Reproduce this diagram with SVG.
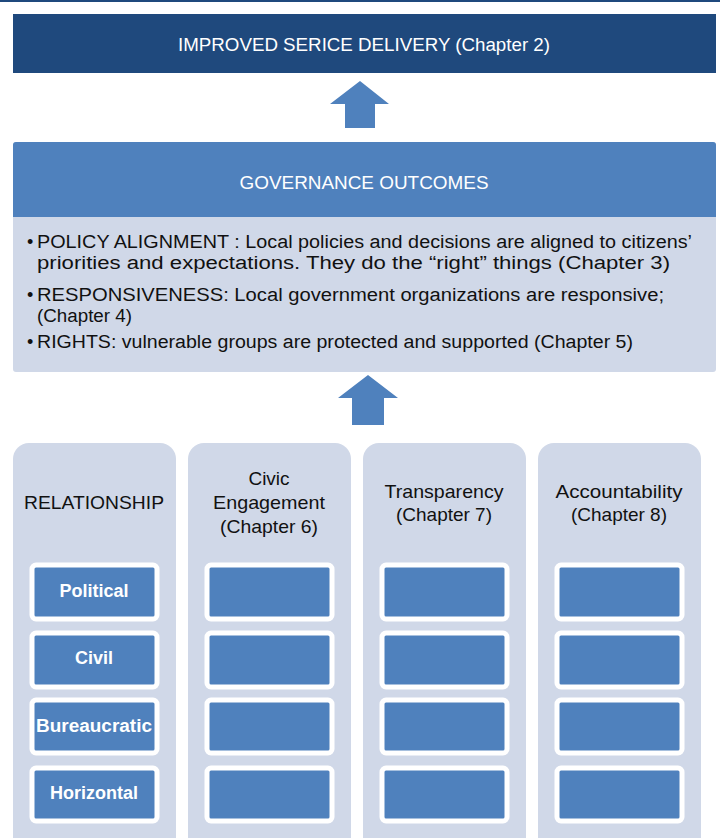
<svg xmlns="http://www.w3.org/2000/svg" width="720" height="838" viewBox="0 0 720 838">
  <style>
    .txt { font-family: "Liberation Sans", Arial, sans-serif; }
    .white { fill: #ffffff; }
    .dark { fill: #111111; }
    .col { fill: #d0d8e8; }
    .cell { fill: #4f81bd; stroke: #ffffff; stroke-width: 5; }
    .arrow { fill: #4f81bd; }
    .lbl { font-family: "Liberation Sans", Arial, sans-serif; font-size: 18px; font-weight: bold; fill: #ffffff; text-anchor: middle; }
    .hdr { font-family: "Liberation Sans", Arial, sans-serif; font-size: 19px; fill: #111111; text-anchor: middle; }
  </style>

  <!-- top rule -->
  <rect x="0" y="0" width="720" height="2" fill="#1f497d"/>

  <g id="service-delivery">
    <rect x="13" y="14" width="703" height="59" fill="#1f497d"/>
    <text class="txt white" x="364" y="51" font-size="18" text-anchor="middle" textLength="372" lengthAdjust="spacingAndGlyphs">IMPROVED SERICE DELIVERY (Chapter 2)</text>
  </g>

  <g id="connectors">
    <path class="arrow" d="M360,81 L389,104 L375,104 L375,128 L345,128 L345,104 L330,104 Z"/>
    <path class="arrow" d="M368,375 L398,398 L384,398 L384,425 L352,425 L352,398 L338,398 Z"/>
  </g>

  <g id="governance-outcomes">
    <rect x="13" y="142" width="703" height="230" rx="3" fill="#d0d8e8"/>
    <path d="M16,142 H713 A3,3 0 0 1 716,145 V217 H13 V145 A3,3 0 0 1 16,142 Z" fill="#4f81bd"/>
    <text class="txt white" x="364" y="189" font-size="18" text-anchor="middle" textLength="249" lengthAdjust="spacingAndGlyphs">GOVERNANCE OUTCOMES</text>
    <g class="txt dark" font-size="18">
      <text x="27" y="248">•</text>
      <text x="37" y="248" textLength="655" lengthAdjust="spacingAndGlyphs">POLICY ALIGNMENT : Local policies and decisions are aligned to citizens’</text>
      <text x="37" y="269" textLength="633" lengthAdjust="spacingAndGlyphs">priorities and expectations.  They do the “right” things (Chapter 3)</text>
      <text x="27" y="301">•</text>
      <text x="37" y="301" textLength="627" lengthAdjust="spacingAndGlyphs">RESPONSIVENESS: Local government organizations are responsive;</text>
      <text x="37" y="322" textLength="95" lengthAdjust="spacingAndGlyphs">(Chapter 4)</text>
      <text x="27" y="348">•</text>
      <text x="37" y="348" textLength="596" lengthAdjust="spacingAndGlyphs">RIGHTS: vulnerable groups are protected and supported (Chapter 5)</text>
    </g>
  </g>

  <g id="relationship">
    <rect class="col" x="13" y="443" width="163" height="420" rx="16"/>
    <text class="hdr" x="94" y="509" textLength="140" lengthAdjust="spacingAndGlyphs">RELATIONSHIP</text>
    <rect class="cell" x="32" y="565" width="125" height="54" rx="4"/>
    <rect class="cell" x="32" y="633" width="125" height="54" rx="4"/>
    <rect class="cell" x="32" y="700" width="125" height="53" rx="4"/>
    <rect class="cell" x="32" y="768" width="125" height="53" rx="4"/>
    <text class="lbl" x="94" y="597">Political</text>
    <text class="lbl" x="94" y="664">Civil</text>
    <text class="lbl" x="94" y="732" textLength="116" lengthAdjust="spacingAndGlyphs">Bureaucratic</text>
    <text class="lbl" x="94" y="799">Horizontal</text>
  </g>

  <g id="civic-engagement">
    <rect class="col" x="188" y="443" width="163" height="420" rx="16"/>
    <text class="hdr" x="269" y="485">Civic</text>
    <text class="hdr" x="269" y="509" textLength="112" lengthAdjust="spacingAndGlyphs">Engagement</text>
    <text class="hdr" x="269" y="533" textLength="98" lengthAdjust="spacingAndGlyphs">(Chapter 6)</text>
    <rect class="cell" x="207" y="565" width="125" height="54" rx="4"/>
    <rect class="cell" x="207" y="633" width="125" height="54" rx="4"/>
    <rect class="cell" x="207" y="700" width="125" height="53" rx="4"/>
    <rect class="cell" x="207" y="768" width="125" height="53" rx="4"/>
  </g>

  <g id="transparency">
    <rect class="col" x="363" y="443" width="163" height="420" rx="16"/>
    <text class="hdr" x="444" y="498" textLength="119" lengthAdjust="spacingAndGlyphs">Transparency</text>
    <text class="hdr" x="444" y="521" textLength="96" lengthAdjust="spacingAndGlyphs">(Chapter 7)</text>
    <rect class="cell" x="382" y="565" width="125" height="54" rx="4"/>
    <rect class="cell" x="382" y="633" width="125" height="54" rx="4"/>
    <rect class="cell" x="382" y="700" width="125" height="53" rx="4"/>
    <rect class="cell" x="382" y="768" width="125" height="53" rx="4"/>
  </g>

  <g id="accountability">
    <rect class="col" x="538" y="443" width="163" height="420" rx="16"/>
    <text class="hdr" x="619" y="498" textLength="127" lengthAdjust="spacingAndGlyphs">Accountability</text>
    <text class="hdr" x="619" y="521" textLength="96" lengthAdjust="spacingAndGlyphs">(Chapter 8)</text>
    <rect class="cell" x="557" y="565" width="125" height="54" rx="4"/>
    <rect class="cell" x="557" y="633" width="125" height="54" rx="4"/>
    <rect class="cell" x="557" y="700" width="125" height="53" rx="4"/>
    <rect class="cell" x="557" y="768" width="125" height="53" rx="4"/>
  </g>
</svg>
